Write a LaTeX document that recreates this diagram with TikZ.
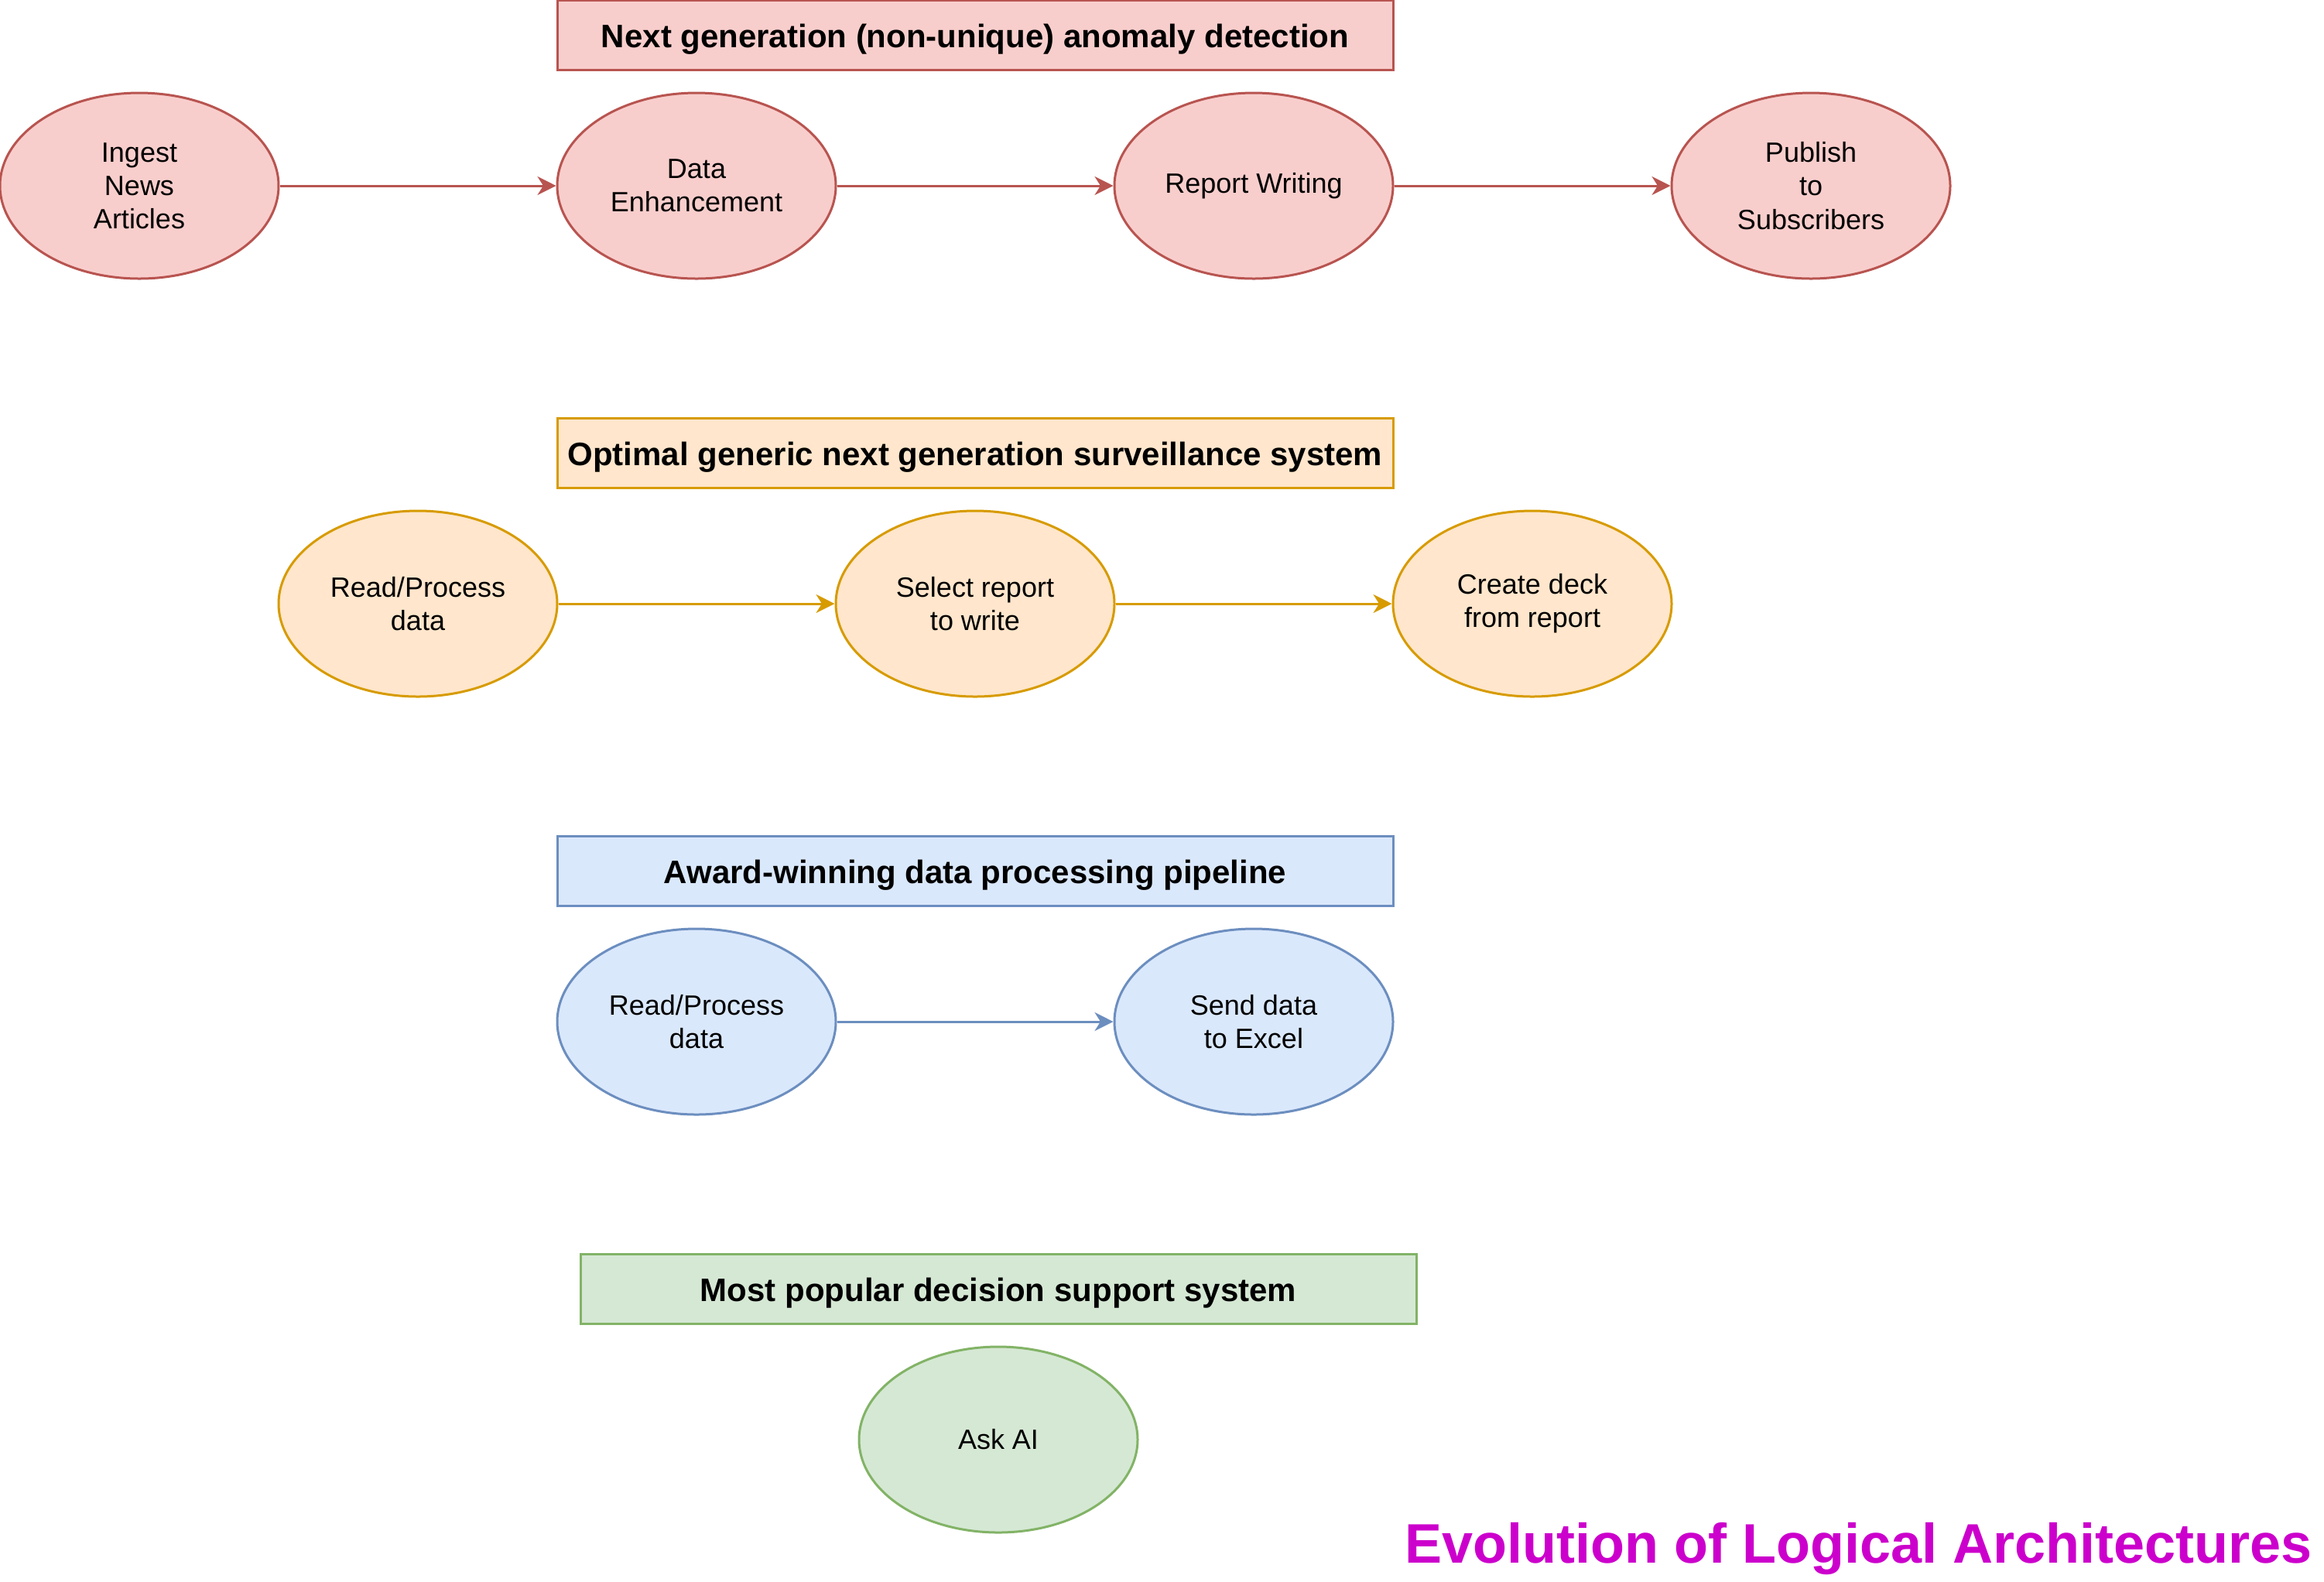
\documentclass[tikz,border=0pt]{standalone}
\usepackage{fontspec}
\setmainfont{Liberation Sans}
\usetikzlibrary{shapes.geometric,arrows.meta}
\definecolor{redfill}{HTML}{F8CECC}
\definecolor{redline}{HTML}{B85450}
\definecolor{orgfill}{HTML}{FFE6CC}
\definecolor{orgline}{HTML}{D79B00}
\definecolor{bluefill}{HTML}{DAE8FC}
\definecolor{blueline}{HTML}{6C8EBF}
\definecolor{grnfill}{HTML}{D5E8D4}
\definecolor{grnline}{HTML}{82B366}
\definecolor{evo}{HTML}{CC00CC}
\begin{document}
\begin{tikzpicture}[x=1pt, y=1pt, node distance={240pt},
	ell/.style = {draw, ellipse, line width=1pt, minimum width=120pt, minimum height=80pt, inner sep=0pt, align=center, font=\fontsize{12}{14.4}\selectfont},
	hdr/.style = {draw, rectangle, line width=1pt, minimum width=360pt, minimum height=30pt, inner sep=0pt, text height=11.2pt, text depth=0pt, font=\fontsize{14}{16.8}\selectfont\bfseries},
	arr/.style = {-{Stealth[length=8pt,width=8pt,inset=2.5pt]}, line width=1pt}]
		\useasboundingbox (0,0) rectangle (1001,-681);
		% row 1
		\node[hdr, fill=redfill, draw=redline] (t1) at (420,-15) {Next generation (non-unique) anomaly detection};
		\node[ell, fill=redfill, draw=redline] (ingest) at (60,-80) {Ingest\\News\\Articles};
		\node[ell, fill=redfill, draw=redline] (enh) [right of=ingest] {Data\\Enhancement};
		\node[ell, fill=redfill, draw=redline] (rep) [right of=enh] {Report Writing};
		\node[ell, fill=redfill, draw=redline] (pub) [right of=rep] {Publish\\to\\Subscribers};
		% row 2
		\node[hdr, fill=orgfill, draw=orgline] (t2) at (420,-195) {Optimal generic next generation surveillance system};
		\node[ell, fill=orgfill, draw=orgline] (read) at (180,-260) {Read/Process\\data};
		\node[ell, fill=orgfill, draw=orgline] (sel) [right of=read] {Select report\\to write};
		\node[ell, fill=orgfill, draw=orgline] (deck) [right of=sel] {Create deck\\from report};
		% row 3
		\node[hdr, fill=bluefill, draw=blueline] (t3) at (420,-375) {Award-winning data processing pipeline};
		\node[ell, fill=bluefill, draw=blueline] (readb) at (300,-440) {Read/Process\\data};
		\node[ell, fill=bluefill, draw=blueline] (excel) [right of=readb] {Send data\\to Excel};
		% row 4
		\node[hdr, fill=grnfill, draw=grnline] (t4) at (430,-555) {Most popular decision support system};
		\node[ell, fill=grnfill, draw=grnline] (ask) at (430,-620) {Ask AI};
		\node[anchor=base west, inner sep=0pt, text=evo, font=\fontsize{24}{28.8}\selectfont\bfseries] (evol) at (605,-673) {Evolution of Logical Architectures};
		\draw[arr, redline] (ingest) -- (enh);
		\draw[arr, redline] (enh) -- (rep);
		\draw[arr, redline] (rep) -- (pub);
		\draw[arr, orgline] (read) -- (sel);
		\draw[arr, orgline] (sel) -- (deck);
		\draw[arr, blueline] (readb) -- (excel);

\end{tikzpicture}
\end{document}
